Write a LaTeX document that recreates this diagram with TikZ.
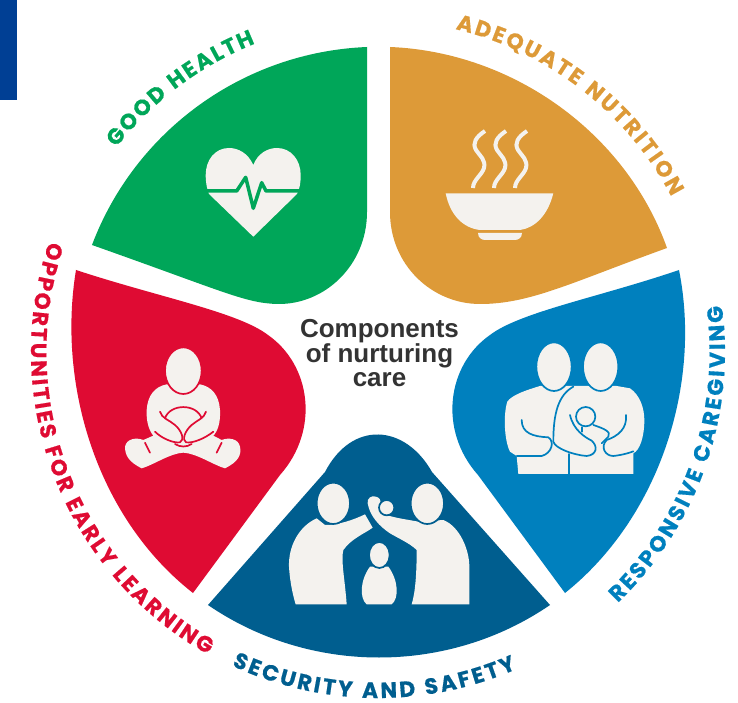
\documentclass[tikz,border=0pt]{standalone}
\usepackage{fontspec}
\usetikzlibrary{decorations.text}
\setsansfont{Liberation Sans}
\newfontfamily\ringfamily{Poppins}[BoldFeatures={FakeBold=0.6}]
\newcommand{\ringfont}{\ringfamily\bfseries\fontsize{22}{22}\selectfont}
\definecolor{healthgreen}{HTML}{00A659}
\definecolor{foodorange}{HTML}{DD9A38}
\definecolor{careblue}{HTML}{0080BE}
\definecolor{learnred}{HTML}{DF0B33}
\definecolor{safenavy}{HTML}{005E8F}
\definecolor{cornerblue}{HTML}{003F94}
\definecolor{iconcream}{HTML}{F4F2EE}
\tikzset{
	ringlabel/.style 2 args={decorate, decoration={text along path, text color=#1, text={|\ringfont|#2}, text align={fit to path}}},
	pixels/.style={shift={(-378pt,352pt)}, yscale=-1},
	icon/.style={fill=iconcream, draw=none},
	iconline/.style={draw=#1, line width=1.7pt, line cap=round, line join=round}
}
\begin{document}
\begin{tikzpicture}[x=1pt, y=1pt]
	\useasboundingbox (-378,-351) rectangle (360,352);
	\begin{scope}[pixels]
		\fill [white] (0,0) rectangle (738,703);
		\fill [cornerblue] (0,0) rectangle (17,100);
		\fill [healthgreen] (92,245) .. controls (135,131) and (243,52) .. (367,47) -- (367,212) .. controls (367,265) and (325,305) .. (277,304) .. controls (245,303) and (225,292) .. cycle;
		\fill [foodorange] (390,47) .. controls (513,52) and (626,133) .. (667,248) .. controls (570,283) and (530,304) .. (480,304) .. controls (432,304) and (390,265) .. (390,212) -- cycle;
		\fill [careblue] (679,270) .. controls (702,385) and (659,518) .. (565,593) -- (478,475) .. controls (438,430) and (447,365) .. (490,335) .. controls (520,312) and (600,297) .. cycle;
		\fill [learnred] (76,270) .. controls (57,385) and (97,518) .. (193,593) -- (280,475) .. controls (320,430) and (311,365) .. (268,335) .. controls (238,312) and (158,297) .. cycle;
		\fill [safenavy] (208,605) .. controls (310,675) and (448,675) .. (550,605) -- (432,472) .. controls (405,424) and (352,420) .. (325,472) -- cycle;
		\fill [icon] (253.3,165) .. controls (248,153) and (238,148) .. (229,148) .. controls (215,148) and (205.7,160) .. (205.7,175) .. controls (205.7,183) and (207,189) .. (209,194) -- (253.3,236.7) -- (297,194) .. controls (300,188) and (300.7,182) .. (300.7,175) .. controls (300.7,160) and (291,148) .. (277,148) .. controls (268,148) and (258,153) .. cycle;
		\draw [healthgreen, line width=3.5pt, line join=round] (204,191) -- (236.7,191) -- (245.7,177.3) -- (253.3,208.3) -- (261.7,182.7) -- (266,191) -- (302,191);
		\foreach \dx in {0,21,42}
			\draw [iconcream, line width=4pt, xshift=\dx pt] (485,131) .. controls (476,137) and (472,143) .. (476,150) .. controls (480,156) and (486,160) .. (484,168) .. controls (482,175) and (473,180) .. (473,188);
		\fill [icon] (445.7,193.3) -- (553.3,193.3) .. controls (548,215) and (535,228) .. (520,230) -- (480,230) .. controls (463,228) and (450,215) .. cycle;
		\fill [icon] (478,233) -- (522,233) .. controls (522,238) and (518,240) .. (515,240) -- (485,240) .. controls (482,240) and (478,238) .. cycle;
		\begin{scope}[shift={(110,340)}, scale=1/3]
			\fill [icon] (170,133) .. controls (135,140) and (113,165) .. (110,210) .. controls (108,250) and (120,275) .. (130,287) -- (100,300) .. controls (80,292) and (50,295) .. (45,320) .. controls (45,345) and (55,365) .. (95,385) .. controls (130,375) and (180,340) .. (220,338) .. controls (260,340) and (310,375) .. (345,385) .. controls (385,365) and (395,345) .. (390,320) .. controls (385,295) and (355,292) .. (335,300) -- (310,287) .. controls (322,275) and (332,250) .. (330,210) .. controls (327,165) and (305,140) .. (270,133) -- cycle;
			\draw [icon, draw=learnred, line width=1.7pt] (220,92) ellipse [x radius=55, y radius=70];
			\draw [iconline=learnred] (150,215) .. controls (155,235) and (178,240) .. (195,255) .. controls (215,272) and (225,300) .. (210,307) .. controls (190,310) and (155,295) .. (135,275);
			\draw [iconline=learnred] (288,215) .. controls (283,235) and (262,240) .. (245,255) .. controls (225,272) and (215,300) .. (228,307) .. controls (250,310) and (285,295) .. (310,275);
			\draw [iconline=learnred] (165,235) .. controls (180,190) and (260,190) .. (275,235);
			\draw [iconline=learnred] (195,312) .. controls (210,322) and (230,322) .. (245,312);
			\draw [iconline=learnred] (105,308) -- (120,338);
			\draw [iconline=learnred] (335,308) -- (320,338);
		\end{scope}
		\begin{scope}[shift={(490,330)}, scale=1/3]
			\fill [icon] (150,168) .. controls (110,180) and (65,195) .. (52,215) .. controls (40,250) and (42,330) .. (60,365) -- (80,378) -- (85,432) -- (430,432) -- (430,370) .. controls (450,360) and (463,320) .. (463,270) .. controls (463,235) and (450,195) .. (420,175) -- (380,168) -- cycle;
			\draw [icon, draw=careblue, line width=1.7pt] (192,110) ellipse [x radius=53, y radius=73];
			\draw [icon, draw=careblue, line width=1.7pt] (332,110) ellipse [x radius=53, y radius=73];
			\draw [iconline=careblue] (250,170) .. controls (205,195) and (190,250) .. (190,335) .. controls (195,355) and (250,375) .. (290,378) .. controls (320,375) and (325,350) .. (305,332) .. controls (285,322) and (250,300) .. (240,255);
			\draw [iconline=careblue] (237,372) -- (237,432);
			\draw [iconline=careblue] (95,270) .. controls (95,310) and (130,320) .. (175,322) .. controls (195,335) and (185,370) .. (155,378) -- (80,378);
			\draw [iconline=careblue] (287,260) circle [radius=29];
			\draw [iconline=careblue] (275,292) -- (275,305);
			\draw [iconline=careblue] (310,285) .. controls (340,295) and (365,305) .. (355,320) -- (335,340);
			\draw [iconline=careblue] (408,255) .. controls (412,295) and (385,318) .. (350,330) .. controls (330,350) and (345,378) .. (370,378) .. controls (395,375) and (415,370) .. (430,364);
		\end{scope}
		\begin{scope}[shift={(270,470)}, scale=1/3]
			\fill [icon] (140,145) .. controls (85,170) and (55,230) .. (57,290) .. controls (60,340) and (70,380) .. (77,403) -- (230,403) .. controls (225,330) and (212,270) .. (220,240) .. controls (245,205) and (285,190) .. (308,173) -- (285,133) .. controls (250,150) and (205,165) .. (165,165) -- cycle;
			\fill [icon] (520,150) .. controls (570,170) and (598,240) .. (598,290) -- (598,403) -- (425,403) .. controls (435,370) and (440,320) .. (440,240) .. controls (420,220) and (385,205) .. (360,190) .. controls (330,170) and (300,140) .. (293,100) .. controls (290,85) and (305,75) .. (318,80) .. controls (328,83) and (335,90) .. (330,105) -- (330,125) .. controls (350,140) and (390,145) .. (445,155) -- cycle;
			\draw [icon, draw=safenavy, line width=1.7pt] (190,100) ellipse [x radius=50, y radius=62];
			\draw [icon, draw=safenavy, line width=1.7pt] (472,100) ellipse [x radius=50, y radius=62];
			\draw [icon, draw=safenavy, line width=1.7pt] (350,113) circle [radius=23];
			\fill [icon] (300,290) .. controls (270,330) and (268,385) .. (290,403) -- (365,403) .. controls (388,385) and (385,330) .. (355,290) -- cycle;
			\draw [icon, draw=safenavy, line width=1.7pt] (328,255) ellipse [x radius=31, y radius=39];
		\end{scope}
	\end{scope}
	\node (componentslabel) [font=\sffamily\bfseries\fontsize{26}{23.5}\selectfont, align=center, text=black!80] at (1.5,-1) {Components\\of nurturing\\care};
	\path [ringlabel={healthgreen}{GOOD HEALTH}] (142:332) arc (142:111.7:332);
	\path [ringlabel={foodorange}{ADEQUATE NUTRITION}] (76.5:332) arc (76.5:27.9:332);
	\path [ringlabel={careblue}{RESPONSIVE CAREGIVING}] (-46.3:347) arc (-46.3:7.7:347);
	\path [ringlabel={learnred}{OPPORTUNITIES FOR EARLY LEARNING}] (161.4:347) arc (161.4:240.6:347);
	\path [ringlabel={safenavy}{SECURITY AND SAFETY}] (245:346) arc (245:293.6:346);
\end{tikzpicture}
\end{document}
